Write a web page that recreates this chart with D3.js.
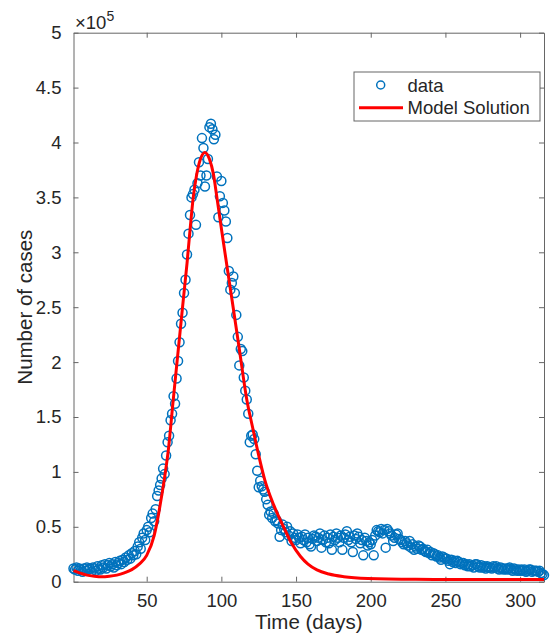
<!DOCTYPE html>
<html>
<head>
<meta charset="utf-8">
<script src="https://cdn.jsdelivr.net/npm/d3@7"></script>
<style>
  body { margin: 0; background: #fff; }
  svg text { font-family: "Liberation Sans", Arial, sans-serif; fill: #262626; }
</style>
</head>
<body>
<div id="chart"></div>
<script>
// daily observed cases, in units of 1e5, day 1 .. 316
const caseData = [
  0.12, 0.11, 0.13, 0.10, 0.12, 0.11, 0.09, 0.12, 0.10, 0.13,
  0.11, 0.12, 0.09, 0.13, 0.12, 0.10, 0.14, 0.12, 0.11, 0.15,
  0.13, 0.16, 0.12, 0.15, 0.17, 0.14, 0.16, 0.13, 0.18, 0.15,
  0.17, 0.19, 0.16, 0.20, 0.18, 0.22, 0.20, 0.24, 0.21, 0.26,
  0.24, 0.28, 0.25, 0.32, 0.36, 0.30, 0.40, 0.44, 0.38, 0.47,
  0.50, 0.45, 0.58, 0.62, 0.55, 0.66, 0.78, 0.83, 0.88, 0.94,
  1.03, 0.98, 1.15, 1.27, 1.33, 1.47, 1.53, 1.69, 1.62, 1.85,
  2.01, 2.18, 2.35, 2.45, 2.63, 2.75, 2.98, 3.17, 3.34, 3.50,
  3.53, 3.57, 3.25, 3.63, 3.82, 3.70, 4.04, 3.95, 3.60, 3.70,
  3.85, 4.14, 4.17, 4.12, 4.03, 4.07, 3.69, 3.32, 3.51, 3.65,
  3.45, 3.38, 3.28, 3.13, 2.83, 2.66, 2.72, 2.78, 2.63, 2.43,
  2.23, 1.97, 2.12, 2.10, 1.86, 1.74, 1.66, 1.53, 1.27, 1.33,
  1.34, 1.30, 1.16, 1.01, 0.86, 0.92, 0.87, 0.84, 0.82, 0.75,
  0.70, 0.61, 0.64, 0.58, 0.62, 0.55, 0.56, 0.53, 0.41, 0.47,
  0.52, 0.48, 0.45, 0.50, 0.42, 0.46, 0.37, 0.44, 0.40, 0.38,
  0.43, 0.40, 0.35, 0.41, 0.38, 0.43, 0.36, 0.40, 0.34, 0.32,
  0.39, 0.42, 0.41, 0.37, 0.40, 0.44, 0.31, 0.38, 0.42, 0.36,
  0.40, 0.35, 0.43, 0.29, 0.41, 0.38, 0.44, 0.40, 0.36, 0.42,
  0.29, 0.40, 0.43, 0.46, 0.38, 0.41, 0.36, 0.27, 0.42, 0.39,
  0.44, 0.41, 0.35, 0.38, 0.24, 0.40, 0.37, 0.33, 0.36, 0.34,
  0.38, 0.24, 0.42, 0.47, 0.46, 0.45, 0.48, 0.44, 0.47, 0.31,
  0.48, 0.46, 0.44, 0.42, 0.37, 0.40, 0.43, 0.44, 0.39, 0.38,
  0.36, 0.34, 0.37, 0.35, 0.33, 0.37, 0.31, 0.34, 0.29, 0.32,
  0.30, 0.33, 0.32, 0.29, 0.30, 0.28, 0.27, 0.29, 0.26, 0.27,
  0.24, 0.26, 0.25, 0.23, 0.24, 0.22, 0.20, 0.23, 0.22, 0.21,
  0.21, 0.19, 0.16, 0.20, 0.18, 0.19, 0.17, 0.19, 0.18, 0.16,
  0.17, 0.17, 0.15, 0.16, 0.14, 0.16, 0.14, 0.15, 0.13, 0.16,
  0.16, 0.14, 0.13, 0.15, 0.13, 0.14, 0.12, 0.14, 0.13, 0.13,
  0.12, 0.14, 0.13, 0.14, 0.12, 0.11, 0.13, 0.12, 0.11, 0.12,
  0.11, 0.12, 0.13, 0.11, 0.10, 0.12, 0.11, 0.10, 0.11, 0.10,
  0.11, 0.10, 0.11, 0.09, 0.10, 0.11, 0.11, 0.09, 0.10, 0.10,
  0.10, 0.09, 0.10, 0.08, 0.07, 0.06
];

// model solution, sampled days and values (1e5 units)
const modelDays = [1, 5, 10, 15, 20, 25, 30, 35, 40, 45, 50, 55, 58, 60, 62, 64.5, 67.8, 71.2, 74.6, 77, 79, 81, 83.5, 86, 89,
  92, 94.7, 97, 100.3, 104, 107, 112, 117, 121, 125, 129, 135, 141.6, 147, 153, 158, 164, 172, 182, 198, 230, 270, 316];
const modelVals = [0.10, 0.08, 0.06, 0.05, 0.045, 0.05, 0.06, 0.08, 0.11, 0.16, 0.24, 0.42, 0.62, 0.78, 0.95, 1.2, 1.66, 2.12, 2.58, 2.9, 3.2, 3.48, 3.71, 3.85, 3.91,
  3.85, 3.71, 3.5, 3.19, 2.85, 2.58, 2.12, 1.66, 1.40, 1.15, 0.93, 0.70, 0.50, 0.35, 0.23, 0.16, 0.107, 0.07, 0.046, 0.03, 0.022, 0.02, 0.02];

const yTicks = [0, 0.5, 1, 1.5, 2, 2.5, 3, 3.5, 4, 4.5, 5];
const xTicks = [50, 100, 150, 200, 250, 300];
const legendLabels = ["data", "Model Solution"];

const W = 550, H = 636;
const margin = {top: 32.7, right: 6, bottom: 54.3, left: 73.5};
const width = W - margin.left - margin.right;
const height = H - margin.top - margin.bottom;

const blue = "#0072BD", red = "#FF0000", axisCol = "#666";

const svg = d3.select("#chart").append("svg")
  .attr("width", W).attr("height", H);

const g = svg.append("g")
  .attr("transform", "translate(" + margin.left + "," + margin.top + ")");

const x = d3.scaleLinear().domain([1, 316]).range([0, width]);
const y = d3.scaleLinear().domain([0, 5]).range([height, 0]);

// axes (ticks inward, MATLAB style box)
const fmt = d => String(d);
g.append("g").attr("transform", "translate(0," + height + ")")
  .call(d3.axisBottom(x).tickValues(xTicks).tickSizeInner(-5).tickSizeOuter(0).tickPadding(12).tickFormat(fmt));
g.append("g").call(d3.axisTop(x).tickValues(xTicks).tickSizeInner(-5).tickSizeOuter(0).tickFormat(""));
g.append("g").call(d3.axisLeft(y).tickValues(yTicks).tickSizeInner(-5).tickSizeOuter(0).tickPadding(12).tickFormat(fmt));
g.append("g").attr("transform", "translate(" + width + ",0)")
  .call(d3.axisRight(y).tickValues(yTicks).tickSizeInner(-5).tickSizeOuter(0).tickFormat(""));

g.selectAll(".domain").attr("stroke", axisCol);
g.selectAll(".tick line").attr("stroke", axisCol);
g.selectAll(".tick text")
  .style("font-size", "18.5px")
  .attr("fill", "#262626");

// exponent label
const expo = g.append("text").attr("x", 1.5).attr("y", -4).style("font-size", "18.5px");
expo.append("tspan").text("\u00d710");
expo.append("tspan").attr("dy", -8).style("font-size", "14px").text("5");

// axis labels
svg.append("text")
  .attr("x", margin.left + width / 2).attr("y", 629)
  .attr("text-anchor", "middle").style("font-size", "20.5px")
  .text("Time (days)");
svg.append("text")
  .attr("transform", "translate(32," + (margin.top + height / 2) + ") rotate(-90)")
  .attr("text-anchor", "middle").style("font-size", "20.5px")
  .text("Number of cases");

// data circles
g.append("g").selectAll("circle")
  .data(caseData)
  .join("circle")
  .attr("cx", (d, i) => x(i + 1))
  .attr("cy", d => y(d))
  .attr("r", 4.5)
  .attr("fill", "none")
  .attr("stroke", blue)
  .attr("stroke-width", 1.5);

// model curve
const modelPts = modelDays.map((d, i) => [d, modelVals[i]]);
g.append("path")
  .datum(modelPts)
  .attr("fill", "none")
  .attr("stroke", red)
  .attr("stroke-width", 3)
  .attr("d", d3.line().x(d => x(d[0])).y(d => y(d[1])).curve(d3.curveMonotoneX));

// legend
const leg = svg.append("g").attr("transform", "translate(354,72)");
leg.append("rect").attr("width", 186).attr("height", 49)
  .attr("fill", "#fff").attr("stroke", axisCol).attr("stroke-width", 1);
leg.append("circle").attr("cx", 26.7).attr("cy", 13).attr("r", 4)
  .attr("fill", "none").attr("stroke", blue).attr("stroke-width", 1.5);
leg.append("line").attr("x1", 5).attr("x2", 49).attr("y1", 35.7).attr("y2", 35.7)
  .attr("stroke", red).attr("stroke-width", 3);
leg.selectAll("text.lab")
  .data(legendLabels)
  .join("text")
  .attr("class", "lab")
  .attr("x", 53.5)
  .attr("y", (d, i) => 19.5 + i * 22.5)
  .style("font-size", "18.5px")
  .text(d => d);
</script>
</body>
</html>
